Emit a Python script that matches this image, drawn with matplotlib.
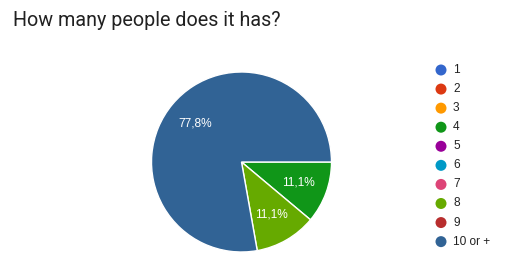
import numpy as np
import matplotlib
matplotlib.use("Agg")
import matplotlib.pyplot as plt
from matplotlib.patches import Circle

# Survey answers (legend order) and their colours
categories = ["1", "2", "3", "4", "5", "6", "7", "8", "9", "10 or +"]
colors = ["#3366cc", "#dc3912", "#ff9900", "#109618", "#990099",
          "#0099c6", "#dd4477", "#66aa00", "#b82e2e", "#316395"]
# share of answers, %
shares = [0, 0, 0, 11.1, 0, 0, 0, 11.1, 0, 77.8]

title = "How many people does it has?"

W, H = 524, 266
fig = plt.figure(figsize=(W / 100, H / 100), dpi=100)
ax = fig.add_axes([0, 0, 1, 1])

# only slices that have answers are drawn
used = [i for i, v in enumerate(shares) if v > 0]
vals = [shares[i] for i in used]
cols = [colors[i] for i in used]

cx, cy, r = 241.5, H - 162, 90
wedges, texts, autotexts = ax.pie(
    vals, colors=cols, startangle=0, counterclock=False,
    center=(cx, cy), radius=r, autopct=lambda p: ("%.1f%%" % p).replace(".", ","),
    pctdistance=0.67, wedgeprops=dict(edgecolor="white", linewidth=1),
    textprops=dict(color="white", fontsize=8.6, family="Liberation Sans"))

# the big slice label sits at upper left like in google forms
ang = np.deg2rad(140)
autotexts[-1].set_position((cx + 0.67 * r * np.cos(ang), cy + 0.67 * r * np.sin(ang)))

ax.set_xlim(0, W)
ax.set_ylim(0, H)
ax.set_aspect("equal")
ax.axis("off")

# legend drawn by hand
for i, (lab, col) in enumerate(zip(categories, colors)):
    y = H - (70 + i * 19.07)
    ax.add_patch(Circle((441, y), 5.5, color=col, lw=0))
    ax.text(453, y, lab, fontsize=8.6, family="Liberation Sans",
            va="center", ha="left", color="#222222")

fig.text(13 / W, 1 - 20 / H, title, fontsize=14.2, family="Roboto",
         va="center", ha="left", color="#212121")

fig.savefig("out.png", dpi=100, facecolor="white")
